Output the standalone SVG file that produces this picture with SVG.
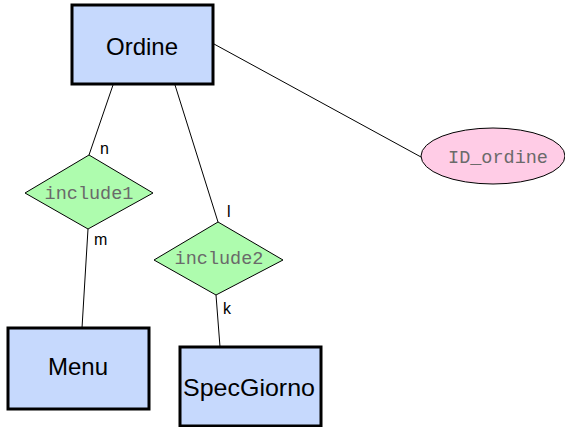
<svg xmlns="http://www.w3.org/2000/svg" width="565" height="427" viewBox="0 0 565 427">
  <style>
    .entity { fill: #c6d9fd; stroke: #000; stroke-width: 3; }
    .relation { fill: #aefcae; stroke: #000; stroke-width: 1; }
    .attr { fill: #ffcce6; stroke: #000; stroke-width: 1; }
    .edge { stroke: #000; stroke-width: 1; fill: none; }
    .ename { font-family: "Liberation Sans", Arial, sans-serif; font-size: 24px; fill: #000; text-anchor: middle; }
    .mono { font-family: "Liberation Mono", "Courier New", monospace; font-size: 18.5px; fill: #6a6a6a; text-anchor: middle; }
    .card { font-family: "Liberation Sans", Arial, sans-serif; font-size: 16px; fill: #000; }
  </style>
  <rect width="565" height="427" fill="#fff"/>

  <g id="connectors">
    <line class="edge" x1="214" y1="44" x2="421" y2="157"/>
    <line class="edge" x1="113" y1="85" x2="89" y2="155"/>
    <line class="edge" x1="88" y1="229" x2="82" y2="328"/>
    <line class="edge" x1="175" y1="85" x2="218" y2="222"/>
    <line class="edge" x1="216" y1="295" x2="220" y2="347"/>
    <text class="card" x="100" y="154">n</text>
    <text class="card" x="94" y="245">m</text>
    <text class="card" x="227" y="217">l</text>
    <text class="card" x="223" y="314">k</text>
  </g>

  <g id="ordine">
    <rect class="entity" x="72" y="5" width="141" height="79"/>
    <text class="ename" x="142" y="55">Ordine</text>
  </g>

  <g id="id_ordine">
    <ellipse class="attr" cx="493" cy="156" rx="72" ry="28"/>
    <text class="mono" x="498" y="163">ID_ordine</text>
  </g>

  <g id="include1">
    <polygon class="relation" points="89,155 153,193 88,229 25,193"/>
    <text class="mono" x="89" y="199">include1</text>
  </g>

  <g id="include2">
    <polygon class="relation" points="218,222 283,260 216,295 154,260"/>
    <text class="mono" x="219" y="264">include2</text>
  </g>

  <g id="menu">
    <rect class="entity" x="8" y="328" width="141" height="81"/>
    <text class="ename" x="78" y="375">Menu</text>
  </g>

  <g id="specgiorno">
    <rect class="entity" x="180" y="347" width="141" height="79"/>
    <text class="ename" x="249" y="396" textLength="132" lengthAdjust="spacingAndGlyphs">SpecGiorno</text>
  </g>
</svg>
